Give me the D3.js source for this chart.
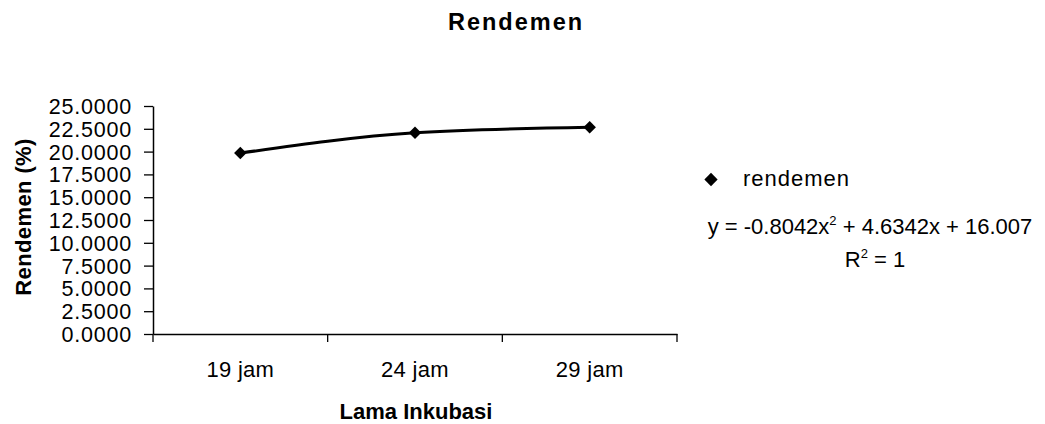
<!DOCTYPE html>
<html><head><meta charset="utf-8">
<script src="https://cdn.jsdelivr.net/npm/d3@7"></script>
<style>body{margin:0;background:#fff}text{font-family:"Liberation Sans",Arial,sans-serif;fill:#000}</style>
</head><body><svg id="c" width="1045" height="424"></svg>
<script>
const categories = ["19 jam", "24 jam", "29 jam"];
const rendemen = [19.837, 22.059, 22.672];
const yTicks = [0, 2.5, 5, 7.5, 10, 12.5, 15, 17.5, 20, 22.5, 25];
const title = "Rendemen";
const xTitle = "Lama Inkubasi";
const yTitle = "Rendemen (%)";
const seriesName = "rendemen";

const FF = "Liberation Sans, Arial, sans-serif";
const svg = d3.select("#c");
const x = d3.scaleBand().domain(categories).range([153, 677]);
const y = d3.scaleLinear().domain([0, 25]).range([334, 106]);

svg.append("text").attr("x", 516).attr("y", 30).attr("text-anchor", "middle")
  .attr("font-size", 23.5).attr("font-weight", "bold").attr("letter-spacing", 2).text(title);

const ya = svg.append("g").attr("transform", "translate(153,0)")
  .call(d3.axisLeft(y).tickValues(yTicks).tickFormat(d3.format(".4f")).tickSize(9).tickSizeOuter(0));
ya.select(".domain").attr("stroke", "#000").attr("stroke-width", 1.5);
ya.selectAll(".tick line").attr("stroke", "#000").attr("stroke-width", 1.3);
ya.selectAll("text").attr("font-size", 21.5).attr("x", -21).attr("dy", "0.35em")
  .attr("letter-spacing", 0.8).attr("font-family", FF);

const xa = svg.append("g").attr("transform", "translate(0,334)")
  .call(d3.axisBottom(x).tickSize(0).tickSizeOuter(0));
xa.select(".domain").attr("stroke", "#000").attr("stroke-width", 1.5);
xa.selectAll("text").attr("font-size", 22).attr("dy", "0").attr("y", 43)
  .attr("letter-spacing", 0.3).attr("font-family", FF);
// boundary tick marks between categories
const bounds = categories.map(c => x(c)).concat([x.range()[1]]);
svg.append("g").selectAll("line").data(bounds).join("line")
  .attr("x1", d => d).attr("x2", d => d).attr("y1", 334).attr("y2", 342)
  .attr("stroke", "#000").attr("stroke-width", 1.3);

const pts = categories.map((c, i) => [x(c) + x.bandwidth() / 2, y(rendemen[i])]);
svg.append("path").attr("d", d3.line().curve(d3.curveMonotoneX)(pts))
  .attr("fill", "none").attr("stroke", "#000").attr("stroke-width", 3);

const diamond = d3.symbol().type(d3.symbolSquare).size(78);
svg.append("g").selectAll("path").data(pts).join("path")
  .attr("transform", d => `translate(${d[0]},${d[1]}) rotate(45)`).attr("d", diamond).attr("fill", "#000");

svg.append("text").attr("transform", "translate(31,217) rotate(-90)").attr("text-anchor", "middle")
  .attr("font-size", 22).attr("font-weight", "bold").attr("letter-spacing", 0.4).text(yTitle);
svg.append("text").attr("x", 416).attr("y", 419).attr("text-anchor", "middle")
  .attr("font-size", 22).attr("font-weight", "bold").text(xTitle);

// legend
svg.append("path").attr("transform", "translate(711,179.5) rotate(45)").attr("d", d3.symbol().type(d3.symbolSquare).size(88)).attr("fill", "#000");
svg.append("text").attr("x", 743).attr("y", 186).attr("font-size", 22).attr("letter-spacing", 1).text(seriesName);

const eq = svg.append("text").attr("x", 870).attr("y", 234).attr("text-anchor", "middle").attr("font-size", 22);
eq.append("tspan").text("y = -0.8042x");
eq.append("tspan").attr("font-size", 13).attr("dy", -9).text("2");
eq.append("tspan").attr("dy", 9).text(" + 4.6342x + 16.007");
const r2 = svg.append("text").attr("x", 875).attr("y", 267).attr("text-anchor", "middle").attr("font-size", 22);
r2.append("tspan").text("R");
r2.append("tspan").attr("font-size", 13).attr("dy", -9).text("2");
r2.append("tspan").attr("dy", 9).text(" = 1");
</script></body></html>
